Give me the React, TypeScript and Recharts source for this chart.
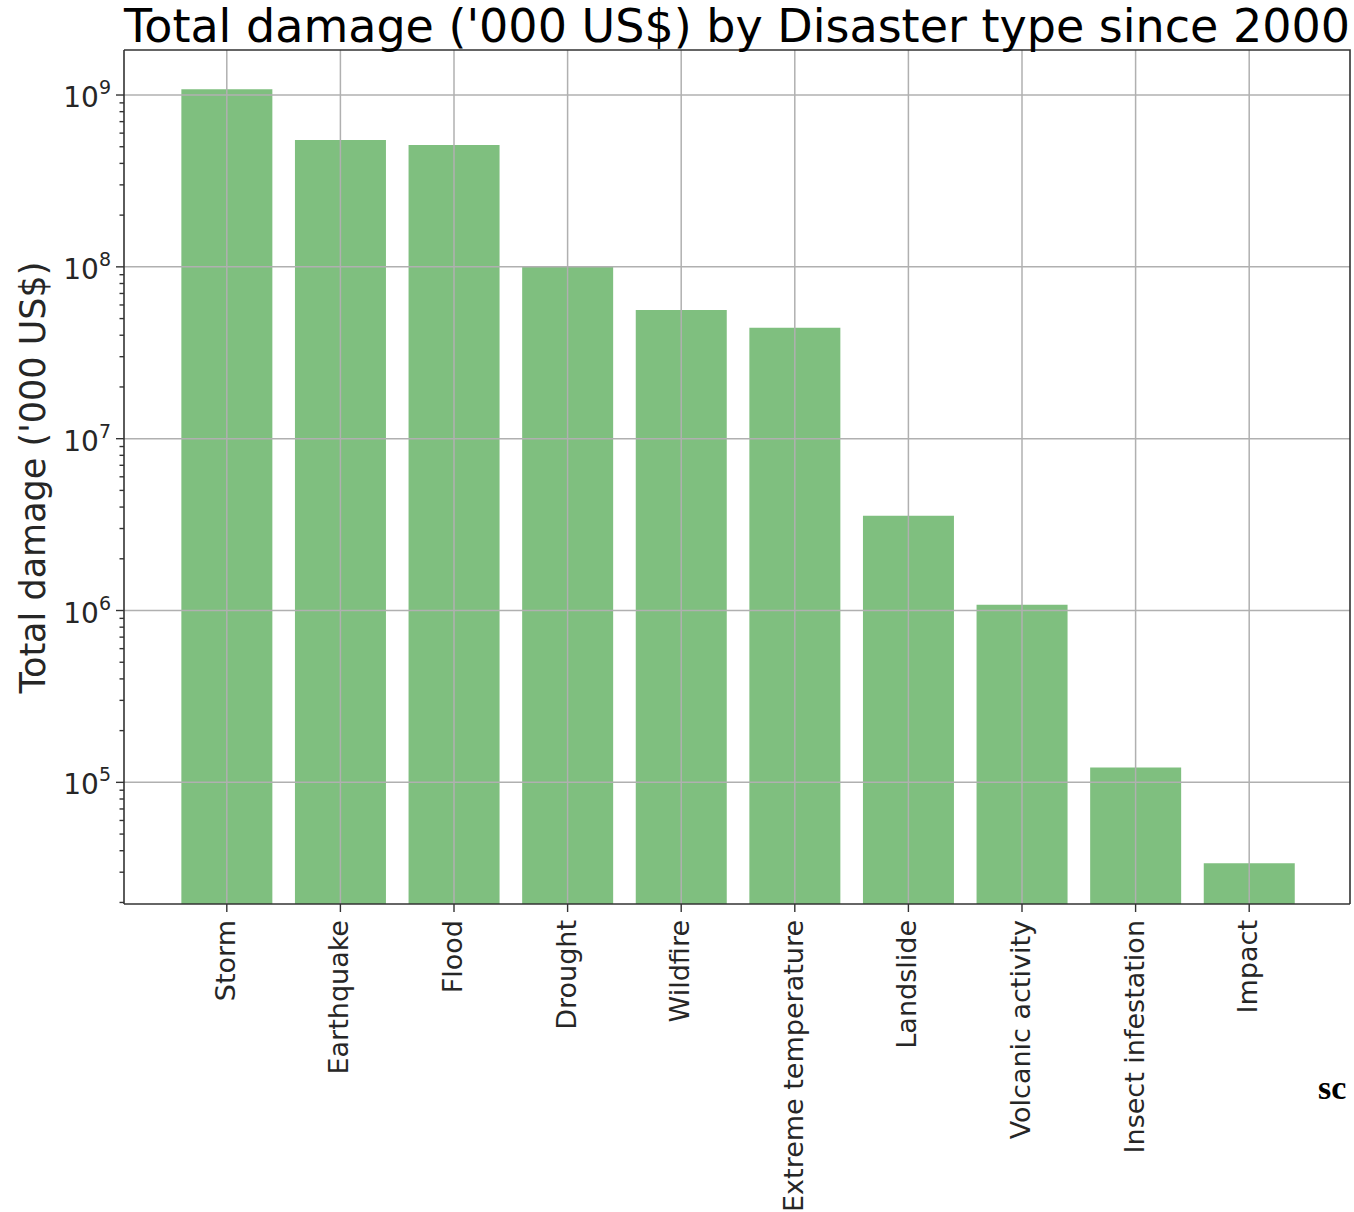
import React from 'react';
import { BarChart, Bar, XAxis, YAxis, ReferenceLine } from 'recharts';

const categories = ['Storm', 'Earthquake', 'Flood', 'Drought', 'Wildfire', 'Extreme temperature', 'Landslide', 'Volcanic activity', 'Insect infestation', 'Impact'];
const damage = [1.08e9, 5.47e8, 5.12e8, 1.0e8, 5.6e7, 4.42e7, 3.56e6, 1.08e6, 1.22e5, 3.38e4];
const majorTicks = [1e5, 1e6, 1e7, 1e8, 1e9];
const minorMultipliers = [2, 3, 4, 5, 6, 7, 8, 9];
const yDomain = [19590, 1.828e9];
const titleText = "Total damage ('000 US$) by Disaster type since 2000";
const yLabelText = "Total damage ('000 US$)";

const data = categories.map((c, i) => ({ name: c, value: damage[i] }));

const allTicks: number[] = [];
for (let e = 4; e <= 9; e++) {
  const base = Math.pow(10, e);
  if (base >= yDomain[0] && base <= yDomain[1]) allTicks.push(base);
  for (const m of minorMultipliers) {
    const v = m * base;
    if (v >= yDomain[0] && v <= yDomain[1]) allTicks.push(v);
  }
}
allTicks.sort((a, b) => a - b);

const FONT = 'DejaVu Sans';
const TEXT_COLOR = '#262626';
const AXIS_COLOR = '#333333';
const GRID_COLOR = '#b0b0b0';

const PLOT = { left: 124, top: 50, right: 1350, bottom: 904 };

const YTick = (props: any) => {
  const { x, y, payload } = props;
  const v = payload.value as number;
  const exp = Math.round(Math.log10(v));
  const major = Math.abs(v - Math.pow(10, exp)) < 1e-6 * v;
  return (
    <g>
      <line x1={x - (major ? 8 : 4.5)} x2={x} y1={y} y2={y} stroke={AXIS_COLOR} strokeWidth={1.4} />
      {major && (
        <text x={x - 13} y={y + 12} textAnchor="end" fontSize={28} fontFamily={FONT} fill={TEXT_COLOR}>
          10
          <tspan dy={-13} fontSize={19}>{exp}</tspan>
        </text>
      )}
    </g>
  );
};

const XTick = (props: any) => {
  const { x, y, payload } = props;
  return (
    <text
      transform={`translate(${x + 8},${y}) rotate(-90)`}
      textAnchor="end"
      fontSize={27}
      fontFamily={FONT}
      fill={TEXT_COLOR}
    >
      {payload.value}
    </text>
  );
};

export default function App() {
  return (
    <div style={{ position: 'absolute', left: 0, top: 0, width: 1354, height: 1212, overflow: 'hidden', background: '#fff' }}>
      <BarChart
        width={1354}
        height={1212}
        data={data}
        margin={{ top: PLOT.top, right: 1354 - PLOT.right, bottom: 0, left: 0 }}
        baseValue="dataMin"
        barCategoryGap="10%"
      >
        <XAxis
          dataKey="name"
          type="category"
          height={1212 - PLOT.bottom}
          padding={{ left: 46, right: 44 }}
          interval={0}
          tickSize={8}
          tickMargin={8}
          tickLine={{ stroke: AXIS_COLOR, strokeWidth: 1.4 }}
          axisLine={{ stroke: AXIS_COLOR, strokeWidth: 1.6 }}
          tick={<XTick />}
        />
        <YAxis
          type="number"
          scale="log"
          domain={yDomain}
          allowDataOverflow
          ticks={allTicks}
          interval={0}
          width={PLOT.left}
          tickSize={0}
          tickMargin={0}
          tickLine={false}
          axisLine={{ stroke: AXIS_COLOR, strokeWidth: 1.6 }}
          tick={<YTick />}
        />
        <Bar dataKey="value" fill="#008000" fillOpacity={0.5} isAnimationActive={false} />
        {categories.map((c) => (
          <ReferenceLine key={'vx' + c} x={c} stroke={GRID_COLOR} strokeWidth={1.5} />
        ))}
        {majorTicks.map((t) => (
          <ReferenceLine key={'hy' + t} y={t} stroke={GRID_COLOR} strokeWidth={1.5} />
        ))}
      </BarChart>
      <svg width={1354} height={1212} style={{ position: 'absolute', left: 0, top: 0, pointerEvents: 'none' }}>
        <polyline
          points={`${PLOT.left},${PLOT.top} ${PLOT.right},${PLOT.top} ${PLOT.right},${PLOT.bottom}`}
          fill="none"
          stroke={AXIS_COLOR}
          strokeWidth={1.6}
        />
        <text x={737} y={42} textAnchor="middle" fontSize={46} fontFamily={FONT} fill="#000">
          {titleText}
        </text>
        <text transform="translate(45,477.5) rotate(-90)" textAnchor="middle" fontSize={35} fontFamily={FONT} fill={TEXT_COLOR}>
          {yLabelText}
        </text>
        <text x={1318} y={1099} fontSize={34} fontWeight="bold" fontFamily="Liberation Serif" fill="#000">
          sc
        </text>
      </svg>
    </div>
  );
}
